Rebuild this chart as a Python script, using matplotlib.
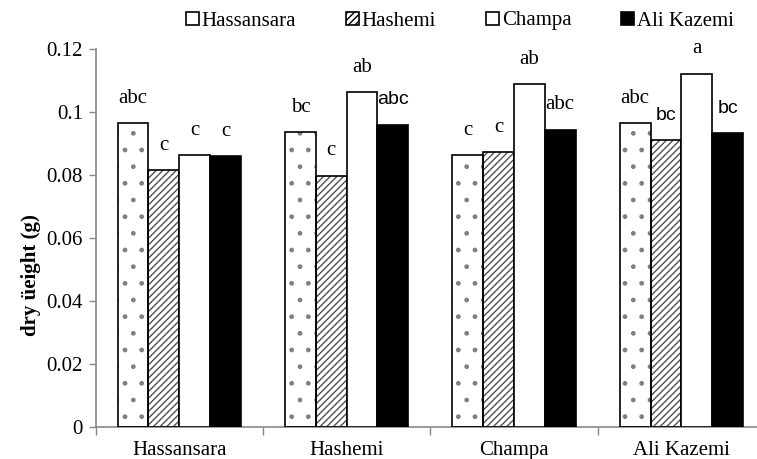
import numpy as np
import matplotlib
matplotlib.use("Agg")
import matplotlib.pyplot as plt
from matplotlib.patches import Patch

# data
cultivars = ["Hassansara", "Hashemi", "Champa", "Ali Kazemi"]
series = ["Hassansara", "Hashemi", "Champa", "Ali Kazemi"]
values = {
    "Hassansara": [0.0966, 0.0937, 0.0864, 0.0964],
    "Hashemi":    [0.0815, 0.0798, 0.0872, 0.0912],
    "Champa":     [0.0864, 0.1063, 0.1089, 0.1122],
    "Ali Kazemi": [0.0859, 0.0960, 0.0944, 0.0934],
}
letters = {
    "Hassansara": ["abc", "bc", "c", "abc"],
    "Hashemi":    ["c", "c", "c", "bc"],
    "Champa":     ["c", "ab", "ab", "a"],
    "Ali Kazemi": ["c", "abc", "abc", "bc"],
}
# a few letters in the original were typed in a sans font
sans_letters = {("Ali Kazemi", 1), ("Hashemi", 3), ("Ali Kazemi", 3)}

serif = ["Liberation Serif", "DejaVu Serif"]
sans = ["Liberation Sans", "DejaVu Sans"]
plt.rcParams["font.family"] = serif
plt.rcParams["hatch.linewidth"] = 1.0

W, H = 757, 459
fig = plt.figure(figsize=(W / 100, H / 100), dpi=100)
left, right, bottom, top = 95.6, 765, 427, 49
ax = fig.add_axes([left / W, (H - bottom) / H, (right - left) / W, (bottom - top) / H])

x = np.arange(len(cultivars))
bw = 0.184
offsets = [-1.5, -0.5, 0.5, 1.5]
styles = {
    "Hassansara": dict(face="white", hatch=".", hcol="#808080"),
    "Hashemi":    dict(face="white", hatch="/////", hcol="#505050"),
    "Champa":     dict(face="white", hatch=None, hcol=None),
    "Ali Kazemi": dict(face="black", hatch=None, hcol=None),
}

handles = []
for s, off in zip(series, offsets):
    st = styles[s]
    xs = x + off * bw
    if st["hatch"]:
        ax.bar(xs, values[s], bw, color=st["face"], hatch=st["hatch"],
               edgecolor=st["hcol"], linewidth=0, zorder=2)
        ax.bar(xs, values[s], bw, fill=False, edgecolor="black", linewidth=1.2, zorder=3)
    else:
        ax.bar(xs, values[s], bw, color=st["face"], edgecolor="black", linewidth=1.2, zorder=3)
    for i, (xi, v) in enumerate(zip(xs, values[s])):
        if (s, i) in sans_letters:
            ax.text(xi, v + 0.0064, letters[s][i], ha="center", va="baseline",
                    fontsize=14, family=sans)
        else:
            ax.text(xi, v + 0.0064, letters[s][i], ha="center", va="baseline",
                    fontsize=15, family=serif)
    handles.append(Patch(facecolor=st["face"], edgecolor="black", linewidth=1.2,
                         hatch=None if s == "Hassansara" else st["hatch"], label=s))

ax.set_ylim(0, 0.12)
ax.set_xlim(-0.5, 3.5)
ax.set_yticks([0, 0.02, 0.04, 0.06, 0.08, 0.1, 0.12])
ax.set_yticklabels(["0", "0.02", "0.04", "0.06", "0.08", "0.1", "0.12"])
ax.set_xticks([-0.5, 0.5, 1.5, 2.5])
ax.set_xticklabels([])
ax.set_xticks(x, minor=True)
ax.set_xticklabels(cultivars, minor=True)
ax.tick_params(axis="x", which="major", length=6, color="#888888", width=1)
ax.tick_params(axis="x", which="minor", length=0, pad=10, labelsize=15)
ax.tick_params(axis="y", length=5, color="#888888", width=1, labelsize=15, pad=4)

for sp in ["top", "right"]:
    ax.spines[sp].set_visible(False)
for sp in ["left", "bottom"]:
    ax.spines[sp].set_color("#888888")
    ax.spines[sp].set_linewidth(1.2)

fig.text(31 / W, 1 - 275 / H, "dry \u00fceight (g)", rotation=90, ha="center",
         va="center", fontsize=15, fontweight="bold")

fig.legend(handles=handles, loc="center", bbox_to_anchor=(460 / W, 1 - 21 / H),
           ncol=4, frameon=False, fontsize=15, handlelength=0.6, handleheight=0.6,
           handletextpad=0.15, columnspacing=2.4, borderpad=0)

fig.savefig("out.png", dpi=100)
